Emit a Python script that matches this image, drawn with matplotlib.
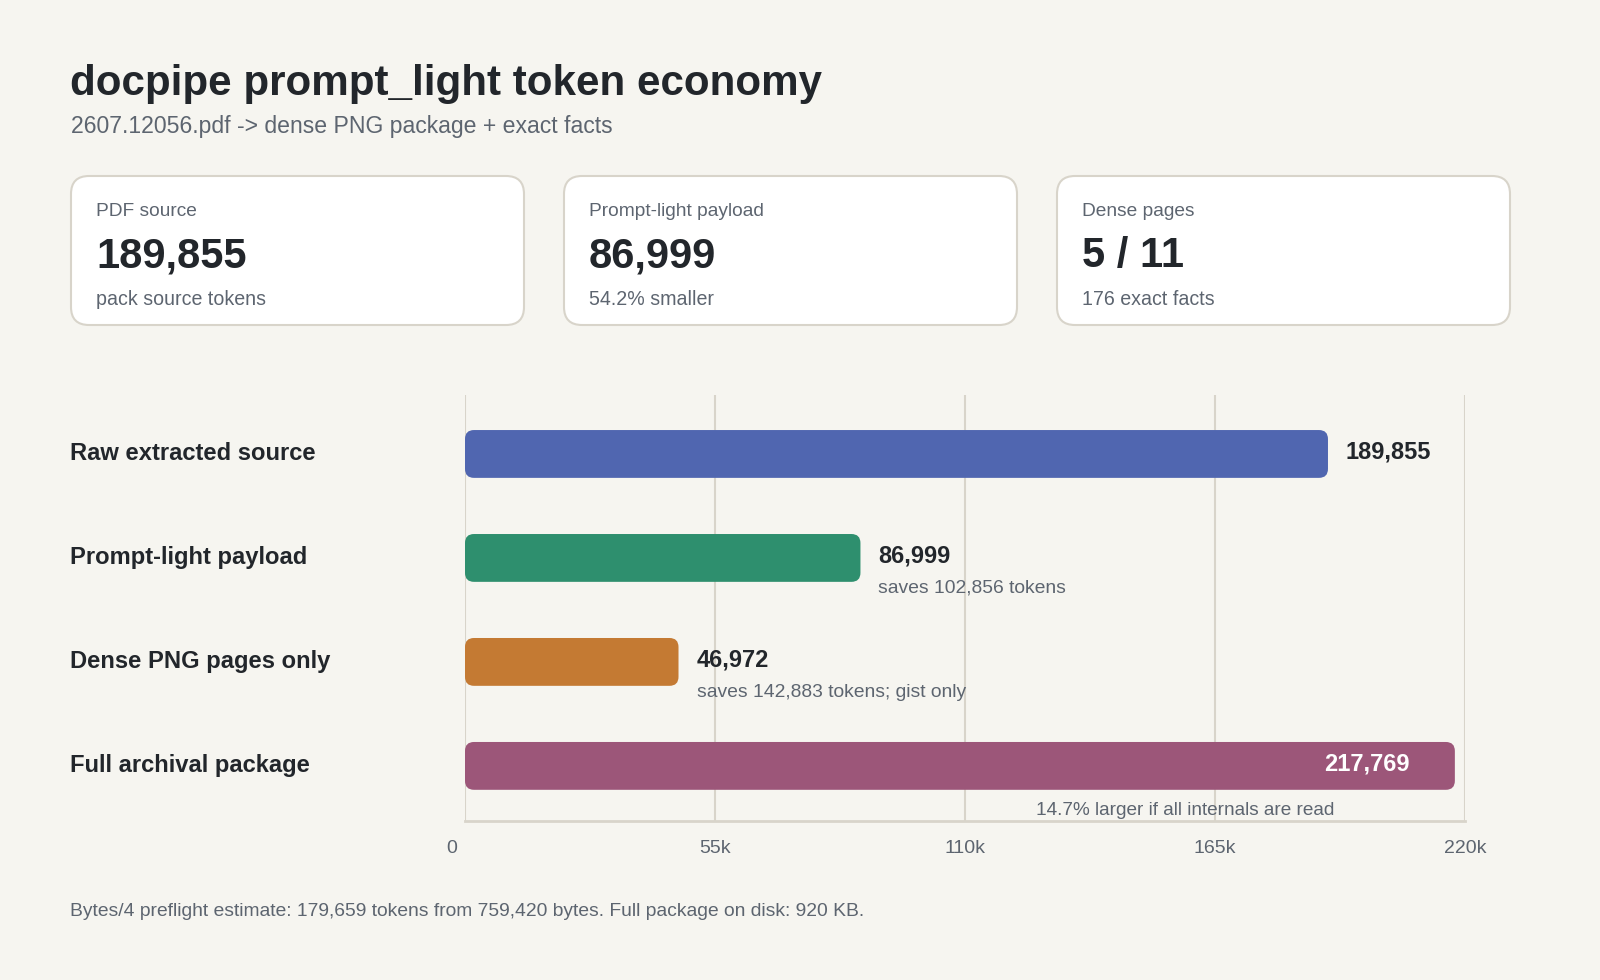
import matplotlib
matplotlib.use("Agg")
import matplotlib.pyplot as plt
import matplotlib.transforms as mtransforms
from matplotlib.patches import FancyBboxPatch

plt.rcParams['font.family'] = ['Liberation Sans', 'DejaVu Sans']

# data
title = "docpipe prompt_light token economy"
subtitle = "2607.12056.pdf -> dense PNG package + exact facts"
card_labels = ["PDF source", "Prompt-light payload", "Dense pages"]
card_values = ["189,855", "86,999", "5 / 11"]
card_notes = ["pack source tokens", "54.2% smaller", "176 exact facts"]

categories = ["Raw extracted source", "Prompt-light payload", "Dense PNG pages only", "Full archival package"]
tokens = [189855, 86999, 46972, 217769]
notes = ["", "saves 102,856 tokens", "saves 142,883 tokens; gist only", "14.7% larger if all internals are read"]
bar_colors = ["#5066b0", "#2e8f6e", "#c47a33", "#9c5679"]
x_ticks = [0, 55000, 110000, 165000, 220000]
x_tick_labels = ["0", "55k", "110k", "165k", "220k"]
footer = "Bytes/4 preflight estimate: 179,659 tokens from 759,420 bytes. Full package on disk: 920 KB."

BG = "#f6f5f0"
DARK = "#22262b"
GRAY = "#5d6570"
LINE = "#d8d4ca"

W, H = 1600, 980
fig = plt.figure(figsize=(16, 9.8), dpi=100, facecolor=BG)

# pixel-space overlay for header, cards and footer
bg = fig.add_axes([0, 0, 1, 1], zorder=0)
bg.set_xlim(0, W)
bg.set_ylim(H, 0)
bg.axis('off')
bg.set_facecolor(BG)

bg.text(70, 84, title, fontsize=30.3, fontweight='bold', color=DARK, va='center', ha='left')
bg.text(71, 126, subtitle, fontsize=16.6, color=GRAY, va='center', ha='left')

card_x = [71, 564, 1057]
card_w = 453
for i in range(3):
    x0 = card_x[i]
    bg.add_patch(FancyBboxPatch((x0, 176), card_w, 149,
                                boxstyle="round,pad=0,rounding_size=18",
                                facecolor="white", edgecolor=LINE, linewidth=1.5))
    bg.text(x0 + 25, 211, card_labels[i], fontsize=13.8, color=GRAY, va='center')
    bg.text(x0 + 25, 256, card_values[i], fontsize=30, fontweight='bold', color=DARK, va='center')
    bg.text(x0 + 25, 299, card_notes[i], fontsize=14.1, color=GRAY, va='center')

bg.text(70, 911, footer, fontsize=13.85, color=GRAY, va='center', ha='left')

# bar chart axes
left, right, top, bottom = 465, 1465, 395, 821
ax = fig.add_axes([left / W, 1 - bottom / H, (right - left) / W, (bottom - top) / H], zorder=1)
ax.set_facecolor('none')
ax.set_xlim(0, 220000)
ax.set_ylim(3.53, -0.567)

row_px = 104
bar_h = 0.46
x_per_px = 220000 / (right - left)
y_per_px = 1 / row_px
radius_px = 9

for i, (cat, val, col) in enumerate(zip(categories, tokens, bar_colors)):
    ax.add_patch(FancyBboxPatch((0, i - bar_h / 2), val, bar_h,
                                boxstyle=f"round,pad=0,rounding_size={radius_px * x_per_px}",
                                mutation_aspect=y_per_px / x_per_px,
                                facecolor=col, edgecolor='none', zorder=3))
    # row label
    bg.text(70, top + (i + 0.567) * row_px, cat, fontsize=17.1, fontweight='bold',
            color=DARK, va='center', ha='left')
    label = f"{val:,}"
    if i == len(tokens) - 1:
        ax.text(val - 45 * x_per_px, i - 0.02, label, fontsize=17, fontweight='bold',
                color='white', va='center', ha='right', zorder=4)
        ax.text(158500, i + 0.43, notes[i], fontsize=13.7, color=GRAY,
                va='center', ha='center', zorder=4)
    else:
        ax.text(val + 18 * x_per_px, i - 0.02, label, fontsize=17, fontweight='bold',
                color=DARK, va='center', ha='left', zorder=4)
        if notes[i]:
            ax.text(val + 18 * x_per_px, i + 0.29, notes[i], fontsize=13.9, color=GRAY,
                    va='center', ha='left', zorder=4)

ax.set_xticks(x_ticks)
ax.set_xticklabels(x_tick_labels, fontsize=14, color=GRAY)
ax.tick_params(axis='x', length=0, pad=14)
# the "0" label sits a little left of its gridline
zero = ax.get_xticklabels()[0]
zero.set_horizontalalignment('right')
zero.set_transform(zero.get_transform() + mtransforms.ScaledTranslation(-0.08, 0, fig.dpi_scale_trans))
ax.set_yticks([])
ax.grid(True, axis='x', color=LINE, linewidth=1.5, zorder=0)
ax.set_axisbelow(True)
for s in ['top', 'left', 'right']:
    ax.spines[s].set_visible(False)
ax.spines['bottom'].set_color(LINE)
ax.spines['bottom'].set_linewidth(2)

fig.savefig("out.png", dpi=100, facecolor=BG)
